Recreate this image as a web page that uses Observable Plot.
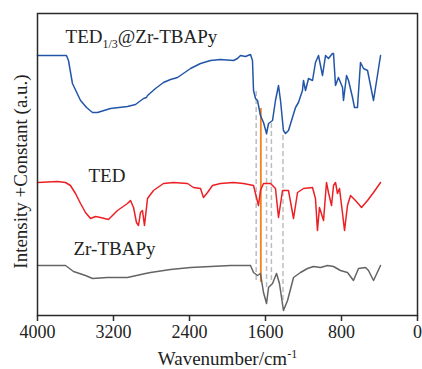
<!DOCTYPE html>
<html>
<head>
<meta charset="utf-8">
<script src="https://cdn.jsdelivr.net/npm/d3@7"></script>
<script src="https://cdn.jsdelivr.net/npm/@observablehq/plot@0.6"></script>
<style>
  html, body { margin: 0; padding: 0; background: #fff; }
</style>
</head>
<body>
<div id="chart"></div>
<script>
// Wavenumbers (cm-1) and relative intensities (arbitrary units, offset per trace)
const compositeW = [4000,3695,3674,3632,3547,3484,3421,3368,3232,3053,2968,2884,2853,2842,2758,2674,2600,2526,2389,2284,2179,2074,1937,1895,1863,1811,1758,1737,1726,1705,1684,1653,1621,1589,1568,1526,1495,1463,1442,1411,1389,1358,1284,1253,1211,1200,1179,1147,1105,1074,1042,1021,1000,968,937,895,884,863,832,789,779,747,726,684,663,632,600,568,526,463,389];
const compositeI = [260,260,255,232,215,208,203,203,207,209,211,217,218,220,227,233,236,238,247,252,255,256,255,257,260,259,261,255,225,217,215,200,193,182,192,195,215,230,215,185,182,185,208,213,225,235,225,237,235,253,260,250,240,260,257,262,262,230,238,228,215,240,235,218,208,208,253,247,245,215,260];

const tedW = [4000,3789,3705,3653,3600,3547,3495,3442,3389,3337,3253,3158,3053,3021,2989,2958,2937,2916,2895,2874,2842,2779,2674,2568,2421,2358,2284,2253,2210,2158,2074,1937,1832,1726,1695,1674,1653,1621,1547,1495,1463,1421,1358,1305,1263,1200,1105,1074,1053,1032,989,958,937,905,884,863,842,821,789,768,737,705,653,589,526,463,389];
const tedI = [133,134,133,130,122,112,103,97,99,98,96,105,112,115,108,93,90,103,105,90,117,125,132,133,132,128,127,118,123,130,132,133,132,130,118,110,125,132,132,127,98,125,125,97,123,127,128,117,85,108,95,133,123,110,130,133,122,127,102,85,110,120,115,108,115,123,133];

const zrW = [4000,3705,3621,3495,3421,3263,3053,2863,2810,2600,2389,1968,1758,1726,1684,1653,1621,1589,1568,1526,1484,1453,1411,1368,1305,1232,1158,1095,1021,947,884,811,737,674,621,547,516,463,389];
const zrI = [50,50,44,40,37,38,38,42,43,46,48,50,50,43,40,42,23,12,28,32,42,32,5,15,38,43,47,49,48,50,49,45,43,35,47,48,45,35,50];

// Guide lines at characteristic bands
const guideW = [1698, 1589, 1538, 1416];
const guideTop = [225, 185, 193, 180];
const guideBottom = [35, 28, 35, 15];
const markerW = [1649];
const markerTop = [207];
const markerBottom = [33];

// Trace labels
const labelText = ["TED1/3@Zr-TBAPy", "TED", "Zr-TBAPy"];
const labelW = [3705, 3463, 3621];
const labelI = [279, 140, 67];

const xTicks = [4000, 3200, 2400, 1600, 800, 0];
const xTitle = "Wavenumber/cm-1";
const yTitle = "Intensity +Constant (a.u.)";

const toRows = (W, I) => W.map((w, i) => ({w, v: I[i]}));
const composite = toRows(compositeW, compositeI);
const ted = toRows(tedW, tedI);
const zr = toRows(zrW, zrI);
const guides = guideW.map((w, i) => ({w, top: guideTop[i], bottom: guideBottom[i]}));
const markers = markerW.map((w, i) => ({w, top: markerTop[i], bottom: markerBottom[i]}));
const labels = labelText.map((t, i) => ({t, w: labelW[i], v: labelI[i]}));

const plot = Plot.plot({
  width: 422,
  height: 369,
  marginLeft: 37,
  marginRight: 5,
  marginTop: 13,
  marginBottom: 54,
  style: {fontFamily: "'Liberation Serif', 'Times New Roman', serif", background: "#fff", color: "#222"},
  x: {domain: [4000, 0], axis: null},
  y: {domain: [0, 302], axis: null},
  marks: [
    Plot.ruleX(guides, {x: "w", y1: "bottom", y2: "top", stroke: "#bdbdbd", strokeWidth: 1.5, strokeDasharray: "5,3"}),
    Plot.ruleX(markers, {x: "w", y1: "bottom", y2: "top", stroke: "#f5821f", strokeWidth: 1.8}),
    Plot.line(composite, {x: "w", y: "v", stroke: "#2255a8", strokeWidth: 1.5}),
    Plot.line(ted, {x: "w", y: "v", stroke: "#ec2024", strokeWidth: 1.5}),
    Plot.line(zr, {x: "w", y: "v", stroke: "#646464", strokeWidth: 1.5}),
    Plot.frame({stroke: "#2a2a2a", strokeWidth: 1.5}),
    Plot.axisX(xTicks, {tickSize: 6, tickPadding: 4, fontSize: 18, stroke: "#2a2a2a", strokeWidth: 1.5, label: null, fill: "#222", tickFormat: d3.format("d")}),
    Plot.text(labels, {x: "w", y: "v", text: "t", textAnchor: "start", fontSize: 19, fill: "#222"}),
    Plot.text([xTitle], {frameAnchor: "bottom", dy: 43, fontSize: 19, fill: "#222", textAnchor: "middle", lineAnchor: "middle"}),
    Plot.text([yTitle], {frameAnchor: "left", rotate: -90, textAnchor: "middle", lineAnchor: "middle", dx: -17, dy: 7, fontSize: 19, fill: "#222"})
  ]
});

// Rich text: subscript and superscript
function richify(svg, plain, parts) {
  svg.querySelectorAll("text").forEach(t => {
    if (t.textContent === plain && !t.querySelector("tspan")) {
      t.textContent = "";
      let shift = 0;
      for (const p of parts) {
        const ts = document.createElementNS("http://www.w3.org/2000/svg", "tspan");
        ts.textContent = p.s;
        const want = p.shift || 0;
        if (want !== shift) { ts.setAttribute("dy", (want - shift) + "px"); shift = want; }
        if (p.size) ts.setAttribute("font-size", p.size);
        t.appendChild(ts);
      }
    }
  });
}
richify(plot, "TED1/3@Zr-TBAPy", [{s: "TED"}, {s: "1/3", shift: 5, size: 12}, {s: "@Zr-TBAPy", shift: 0}]);
richify(plot, "Wavenumber/cm-1", [{s: "Wavenumber/cm"}, {s: "-1", shift: -7, size: 12}]);

document.getElementById("chart").appendChild(plot);
</script>
</body>
</html>
